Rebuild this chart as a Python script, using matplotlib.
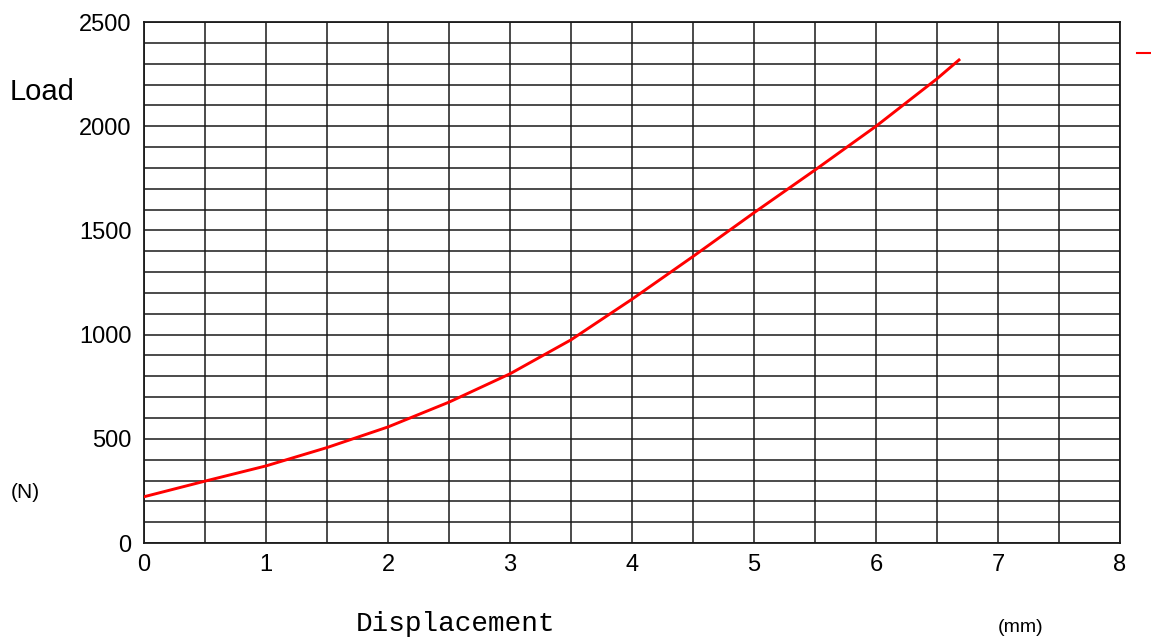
import matplotlib
matplotlib.use('Agg')
import matplotlib.pyplot as plt
import numpy as np
from matplotlib.lines import Line2D

# Данные кривой нагрузка / перемещение
displacement = [0, 0.5, 1, 1.5, 2, 2.5, 3, 3.5, 4, 4.5, 5, 5.5, 6, 6.5, 6.68]
load = [222, 297, 370, 458, 557, 676, 812, 975, 1170, 1375, 1585, 1790, 2000, 2228, 2318]

x_major = [0, 1, 2, 3, 4, 5, 6, 7, 8]
y_major = [0, 500, 1000, 1500, 2000, 2500]

plt.rcParams['font.family'] = ['Liberation Sans', 'DejaVu Sans']

fig = plt.figure(figsize=(11.51, 6.44), dpi=100)
ax = fig.add_axes([0.1251, 0.1568, 0.848, 0.809])

ax.plot(displacement, load, color='#ff0000', linewidth=2.1, zorder=3)

ax.set_xlim(0, 8)
ax.set_ylim(0, 2500)
ax.set_xticks(x_major)
ax.set_xticks(np.arange(0, 8.01, 0.5), minor=True)
ax.set_yticks(y_major)
ax.set_yticks(np.arange(0, 2501, 100), minor=True)
ax.grid(which='both', color='#1a1a1a', linewidth=1.1)
ax.set_axisbelow(True)
for sp in ax.spines.values():
    sp.set_color('#1a1a1a')
    sp.set_linewidth(1.3)

ax.tick_params(which='both', length=0)
ax.tick_params(axis='x', labelsize=17, pad=8)
ax.tick_params(axis='y', labelsize=17, pad=9)

# Подписи осей
fig.text(10 / 1151, 1 - 92 / 644, 'Load', fontsize=21, ha='left', va='center')
fig.text(11 / 1151, 1 - 493 / 644, '(N)', fontsize=15, ha='left', va='center')
fig.text(455 / 1151, 1 - 624 / 644, 'Displacement', fontsize=20,
         family=['Liberation Mono', 'DejaVu Sans Mono'], ha='center', va='center')
fig.text(1021 / 1151, 1 - 628 / 644, '(mm)', fontsize=14, ha='center', va='center')

# Обрезанный фрагмент легенды справа
fig.add_artist(Line2D([1137 / 1151, 1150 / 1151], [1 - 53 / 644, 1 - 53 / 644],
                      color='#ff0000', linewidth=1.5, transform=fig.transFigure))

plt.savefig('out.png', dpi=100)
